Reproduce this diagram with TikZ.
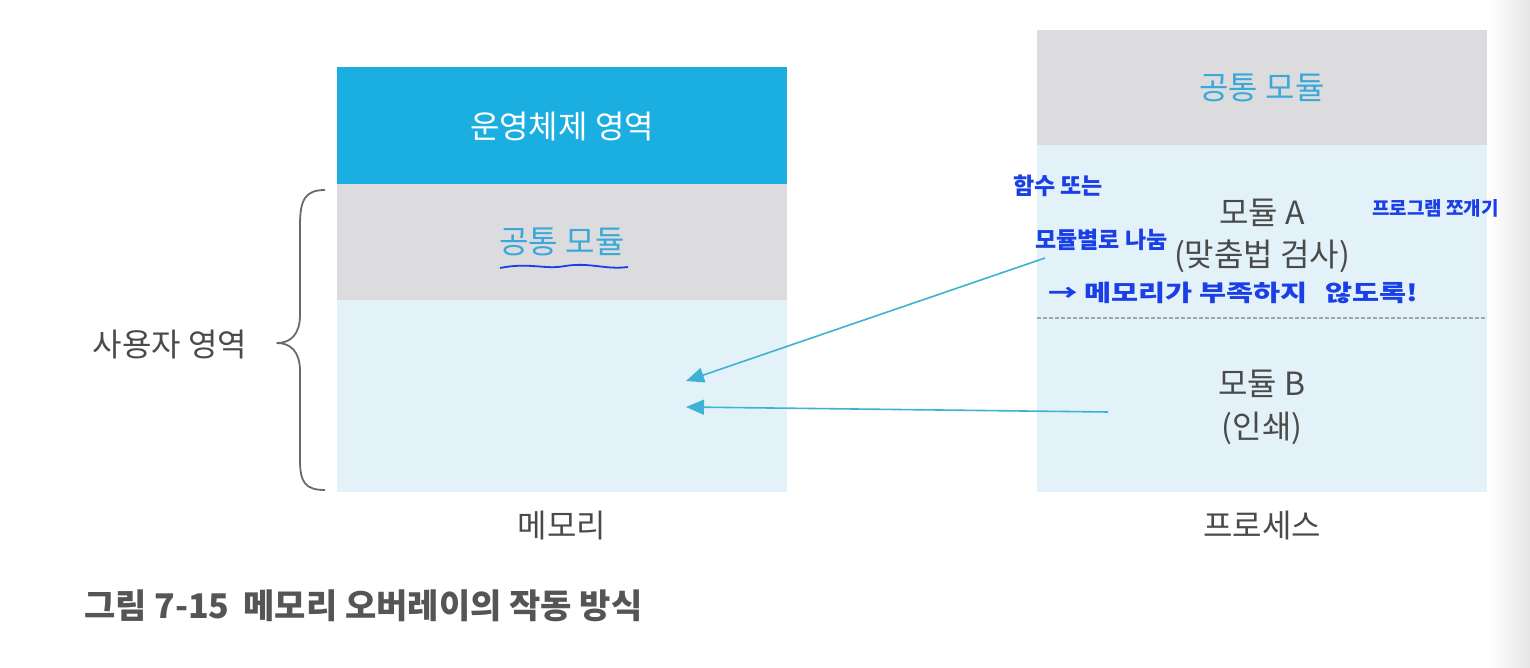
\documentclass[tikz,border=0pt]{standalone}
\usepackage{fontspec}
\setmainfont{Noto Sans CJK KR}
\usetikzlibrary{arrows.meta}
\definecolor{osblue}{HTML}{1BAEE1}
\definecolor{cgray}{HTML}{DCDCDE}
\definecolor{ublue}{HTML}{E3F2F9}
\definecolor{txtgray}{HTML}{4A4A4A}
\definecolor{capgray}{HTML}{555555}
\definecolor{modblue}{HTML}{3AA8D8}
\definecolor{ink}{HTML}{1A3FE6}
\definecolor{arrowc}{HTML}{3DB2D2}
\definecolor{dashc}{HTML}{A5A5A5}
\definecolor{bracec}{HTML}{6A6A6A}
\definecolor{edgegray}{HTML}{E6E6E6}
\tikzset{
  lbl/.style={font=\fontsize{32}{40}\selectfont, text=txtgray, inner sep=0pt, align=center},
  modlbl/.style={font=\fontsize{32}{40}\selectfont, text=modblue, inner sep=0pt},
  hand/.style={font=\bfseries\fontsize{23}{26}\selectfont, text=ink, inner sep=0pt},
  conn/.style={arrowc, line width=1.6pt, -{Triangle[length=18pt,width=15pt]}},
}
\begin{document}
\begin{tikzpicture}[x=1pt,y=-1pt]
\useasboundingbox (0,0) rectangle (1530,668);
\fill[white] (0,0) rectangle (1530,668);
\shade[left color=white, right color=edgegray] (1488,0) rectangle (1530,668);
% memory column
\fill[osblue] (337,67) rectangle (787,184);
\fill[cgray] (337,184) rectangle (787,300);
\fill[ublue] (337,300) rectangle (787,492);
% process column
\fill[cgray] (1037,30) rectangle (1487,145);
\fill[ublue] (1037,145) rectangle (1487,492);
\draw[dashc, line width=2pt, dash pattern=on 4pt off 2pt] (1037,318) -- (1487,318);
% texts in memory
\node[lbl, text=white] (os) at (562,127) {운영체제 영역};
\node[modlbl] (cm1) at (562,242) {공통 모듈};
\draw[ink, line width=1.8pt] (500,268) .. controls (530,262) and (545,270) .. (565,266) .. controls (590,262) and (605,270) .. (628,267);
% brace
\draw[bracec, line width=1.8pt, line join=round] (325,190) .. controls (305,190) and (300,200) .. (300,225) -- (300,315) .. controls (300,335) and (290,343) .. (277,343) .. controls (290,343) and (300,351) .. (300,371) -- (300,460) .. controls (300,482) and (305,490) .. (325,490);
\node[lbl] (user) at (170,345) {사용자 영역};
\node[lbl] (mem) at (562,526) {메모리};
% texts in process
\node[modlbl] (cm2) at (1262,88) {공통 모듈};
\node[lbl] (ma) at (1262,213) {모듈 A};
\node[lbl] (mac) at (1262,256) {(맞춤법 검사)};
\node[lbl] (mb) at (1262,384) {모듈 B};
\node[lbl] (mbc) at (1262,428) {(인쇄)};
\node[lbl] (proc) at (1262,526) {프로세스};
% caption
\node[font=\bfseries\fontsize{34}{36}\selectfont, text=capgray, anchor=west, inner sep=0pt] (cap) at (84,606) {그림 7-15\hspace{14pt}메모리 오버레이의 작동 방식};
% handwriting
\node[hand, anchor=west] (h1) at (1013,186) {함수 또는};
\node[hand, anchor=west] (h2) at (1035,240) {모듈별로 나눔};
\node[hand, anchor=west] (h3) at (1048,293) {\scalebox{1.28}[1]{→ 메모리가 부족하지\hspace{14pt}않도록!}};
\node[hand, anchor=west, font=\bfseries\fontsize{19}{21}\selectfont] (h4) at (1372,208) {프로그램 쪼개기};
% arrows
\coordinate (a1s) at (1045,258);
\coordinate (a1e) at (686,381);
\coordinate (a2s) at (1108,412);
\coordinate (a2e) at (686,407);
\draw[conn] (a1s) -- (a1e);
\draw[conn] (a2s) -- (a2e);
\end{tikzpicture}
\end{document}
